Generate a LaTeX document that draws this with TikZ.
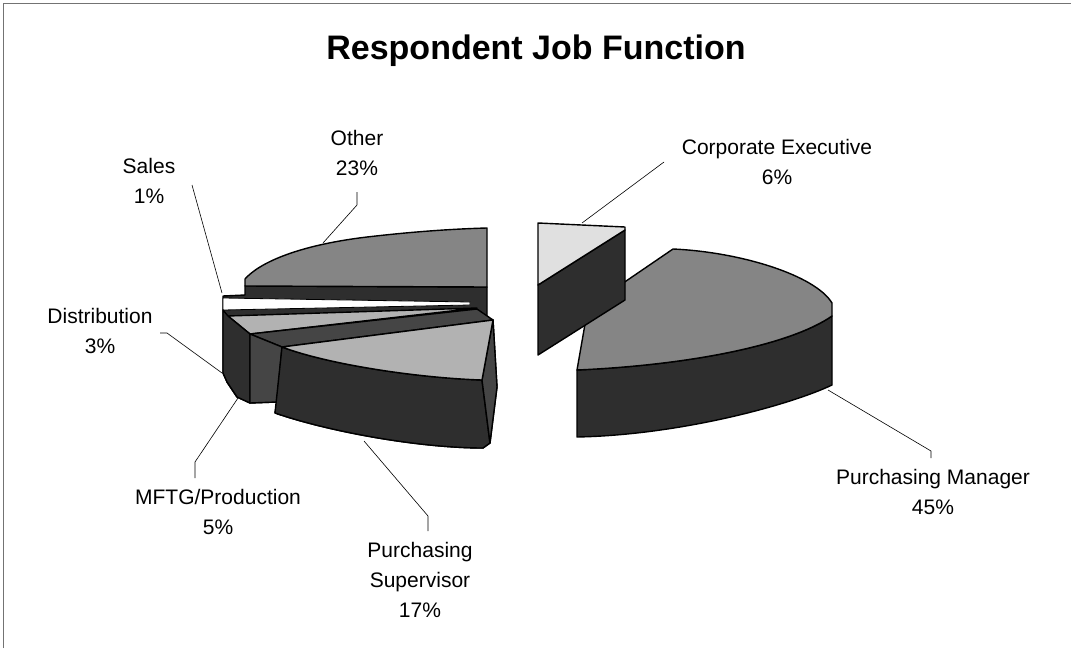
\documentclass[tikz,border=0pt]{standalone}
\usepackage{fontspec}
\setmainfont{Liberation Sans}
\definecolor{midtop}{gray}{0.52}
\definecolor{darkside}{gray}{0.18}
\definecolor{midside}{gray}{0.27}
\definecolor{lighttop}{gray}{0.70}
\definecolor{paletop}{gray}{0.88}
\definecolor{framegray}{gray}{0.45}
\begin{document}
\begin{tikzpicture}[x=1pt,y=-1pt,
  edge/.style={draw=black,line width=1.4pt,line join=round},
  topface/.style={edge,fill=midtop},
  sideface/.style={edge,fill=darkside},
  lbl/.style={font=\fontsize{21}{30}\selectfont,align=center,inner sep=0pt},
  leader/.style={draw=black,line width=0.6pt}]
\useasboundingbox (0,0) rectangle (1071,648);
% frame
\draw[framegray,line width=0.8pt] (3,648) -- (3,3) -- (1071,3);
% title
\node[font=\fontsize{34}{40}\selectfont\bfseries,anchor=base,inner sep=0pt] (title) at (536,59) {Respondent Job Function};

% ---------- Purchasing Manager ----------
\path[sideface] (577,370) .. controls (690,365) and (790,345) .. (832,316) -- (832,385)
   .. controls (790,405) and (680,435) .. (577,437) -- cycle;
\path[topface] (588,307) -- (673,249) .. controls (740,252) and (815,275) .. (832,303) -- (832,316)
   .. controls (790,345) and (690,365) .. (577,370) -- cycle;

% ---------- Corporate Executive ----------
\path[sideface] (538,285) -- (625,230) -- (625,300) -- (538,355) -- cycle;
\path[edge,fill=paletop] (538,223) -- (625,227) -- (625,230) -- (538,285) -- cycle;

% ---------- left cluster ----------
\path[sideface] (245,286) -- (487,287) -- (487,318) -- (493,320) -- (497,387) -- (490,443) -- (483,448)
   .. controls (420,448) and (330,432) .. (275,413) -- (277,402) -- (250,403) -- (237,397) -- (227,382)
   -- (223,373) -- (223,296) -- (245,295) -- cycle;
% Other
\path[topface] (245,286) -- (245,279) .. controls (260,262) and (300,245) .. (367,237)
   .. controls (410,232) and (450,229) .. (487,228) -- (487,287) -- cycle;
% Sales
\path[draw=black,line width=0.8pt,fill=white] (223,298) -- (470,302) -- (470,305) -- (223,310) -- cycle;
% Distribution
\path[edge,fill=lighttop] (228,316) -- (477,308) -- (250,334) -- cycle;
\path[edge,fill=darkside] (223,310) -- (228,316) -- (250,334) -- (250,403) -- (237,397) -- (227,382) -- (223,373) -- cycle;
% MFTG/Production
\path[edge,fill=midside] (250,334) -- (477,309) -- (493,320) -- (282,347) -- cycle;
\path[edge,fill=midside] (250,334) -- (282,347) -- (277,402) -- (250,403) -- cycle;
% Purchasing Supervisor
\path[sideface] (282,347) .. controls (330,365) and (420,378) .. (482,380) -- (490,443) -- (483,448)
   .. controls (420,448) and (330,432) .. (275,413) -- cycle;
\path[edge,fill=midside] (493,320) -- (497,387) -- (490,443) -- (482,380) -- cycle;
\path[edge,fill=lighttop] (282,347) -- (493,320) -- (482,380) .. controls (420,378) and (330,365) .. (282,347) -- cycle;

% ---------- labels ----------
\node[lbl,anchor=base] (lce) at (777,184) {Corporate Executive\\6\%};
\node[lbl,anchor=base] (lpm) at (933,514) {Purchasing Manager\\45\%};
\node[lbl,anchor=base] (lps) at (420,617) {Purchasing\\Supervisor\\17\%};
\node[lbl,anchor=base] (lmf) at (218,534) {MFTG/Production\\5\%};
\node[lbl,anchor=base] (ldi) at (100,353) {Distribution\\3\%};
\node[lbl,anchor=base] (lsa) at (149,203) {Sales\\1\%};
\node[lbl,anchor=base] (lot) at (357,175) {Other\\23\%};

% ---------- leader lines ----------
\coordinate (ce1) at (582,223);  \coordinate (ce2) at (664,162);
\coordinate (pm1) at (828,390);  \coordinate (pm2) at (931,451); \coordinate (pm3) at (931,458);
\coordinate (ps1) at (364,441);  \coordinate (ps2) at (428,516); \coordinate (ps3) at (428,531);
\coordinate (mf1) at (238,398);  \coordinate (mf2) at (195,462); \coordinate (mf3) at (195,478);
\coordinate (di1) at (222,373);  \coordinate (di2) at (167,333); \coordinate (di3) at (160,333);
\coordinate (sa1) at (222,293);  \coordinate (sa2) at (192,185);
\coordinate (ot1) at (323,243);  \coordinate (ot2) at (357,205); \coordinate (ot3) at (357,192);
\draw[leader] (ce1) -- (ce2);
\draw[leader] (pm1) -- (pm2) -- (pm3);
\draw[leader] (ps1) -- (ps2) -- (ps3);
\draw[leader] (mf1) -- (mf2) -- (mf3);
\draw[leader] (di1) -- (di2) -- (di3);
\draw[leader] (sa1) -- (sa2);
\draw[leader] (ot1) -- (ot2) -- (ot3);
\end{tikzpicture}
\end{document}
